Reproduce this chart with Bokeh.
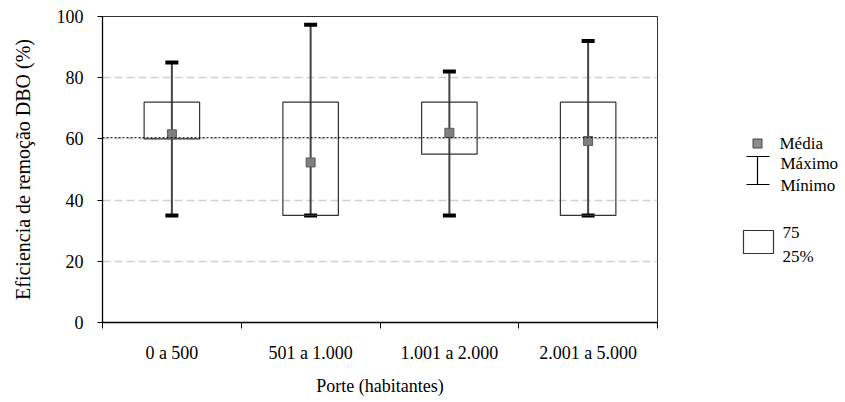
from bokeh.plotting import figure
from bokeh.models import ColumnDataSource, FixedTicker, Range1d, Span, Whisker, TeeHead
from bokeh.layouts import row
from bokeh.core.properties import value
from bokeh.embed import file_html
from bokeh.resources import INLINE

# ---- data ----
categories = ["0 a 500", "501 a 1.000", "1.001 a 2.000", "2.001 a 5.000"]
media = [61.5, 52.3, 62.0, 59.3]
q25 = [60.0, 35.0, 55.0, 35.0]
q75 = [72.0, 72.0, 72.0, 72.0]
minimo = [35.0, 35.0, 35.0, 35.0]
maximo = [85.0, 97.3, 82.0, 92.0]
media_geral = 60.4
y_ticks = [0, 20, 40, 60, 80, 100]

FONT = "Liberation Serif"
xs = [i + 0.5 for i in range(len(categories))]
src = ColumnDataSource(dict(x=xs, cat=categories, media=media, q25=q25, q75=q75,
                            mn=minimo, mx=maximo))

LEFT, TOP, FRAME_W, FRAME_H, BOTTOM, RIGHT = 102, 16, 555, 306, 72, 10
p = figure(frame_width=FRAME_W, frame_height=FRAME_H,
           x_range=Range1d(0, len(categories)), y_range=Range1d(0, 100),
           output_backend="svg", toolbar_location=None,
           min_border_left=LEFT, min_border_top=TOP, min_border_bottom=BOTTOM,
           min_border_right=RIGHT,
           background_fill_color="white", border_fill_color="white")
p.outline_line_color = "#333333"
p.outline_line_width = 1

# grid
p.xgrid.visible = False
p.ygrid.ticker = FixedTicker(ticks=y_ticks)
p.ygrid.grid_line_color = "#cfcfcf"
p.ygrid.grid_line_dash = "8 4"
p.ygrid.grid_line_width = 1.5

# x axis
p.xaxis.ticker = FixedTicker(ticks=xs, minor_ticks=list(range(len(categories) + 1)))
p.xaxis.major_label_overrides = {x: c for x, c in zip(xs, categories)}
p.xaxis.major_tick_line_color = None
p.xaxis.minor_tick_line_color = "black"
p.xaxis.minor_tick_in = 0
p.xaxis.minor_tick_out = 6
p.xaxis.major_label_standoff = 14
p.xaxis.axis_label = "Porte (habitantes)"
p.xaxis.axis_label_standoff = 10

# y axis
p.yaxis.ticker = FixedTicker(ticks=y_ticks)
p.yaxis.minor_tick_line_color = None
p.yaxis.major_tick_in = 0
p.yaxis.major_tick_out = 5
p.yaxis.major_label_standoff = 14
p.yaxis.axis_label = "Eficiencia de remoção DBO (%)"
p.yaxis.axis_label_standoff = 20

for ax in (p.xaxis[0], p.yaxis[0]):
    ax.axis_line_color = "black"
    ax.axis_line_width = 1.3
    ax.major_label_text_font = FONT
    ax.major_label_text_font_size = "18px"
    ax.major_label_text_color = "black"
    ax.axis_label_text_font = FONT
    ax.axis_label_text_font_style = "normal"
    ax.axis_label_text_color = "black"
p.xaxis.axis_label_text_font_size = "18px"
p.yaxis.axis_label_text_font_size = "20px"
p.yaxis.major_tick_line_color = "black"

# boxes (25-75%)
p.vbar(x="x", width=0.4, bottom="q25", top="q75", source=src,
       fill_color=None, line_color="#333333", line_width=1.2)

# overall mean reference line
p.add_layout(Span(location=media_geral, dimension="width", line_color="black",
                  line_dash="2 2", line_width=1))

# min / max whiskers
w = Whisker(base="x", upper="mx", lower="mn", source=src,
            line_color="#444444", line_width=2,
            upper_head=TeeHead(size=13, line_color="black", line_width=4),
            lower_head=TeeHead(size=13, line_color="black", line_width=4))
p.add_layout(w)

# means
p.scatter(x="x", y="media", source=src, marker="square", size=9,
          fill_color="#7f7f7f", line_color="#5a5a5a", line_width=1)

# ---- legend panel (coordinates in page pixels) ----
X0 = LEFT + FRAME_W + RIGHT
LW = 177
lp = figure(frame_width=LW, frame_height=FRAME_H,
            x_range=Range1d(X0, X0 + LW), y_range=Range1d(TOP + FRAME_H, TOP),
            x_axis_location=None, y_axis_location=None,
            min_border_left=0, min_border_right=0,
            min_border_top=TOP, min_border_bottom=BOTTOM,
            toolbar_location=None, output_backend="svg", outline_line_color=None)
lp.grid.visible = False

lp.scatter(x=[757], y=[143], marker="square", size=9, fill_color="#8c8c8c",
           line_color="#444444", line_width=1)
lp.segment(x0=[746, 746, 757], y0=[156, 184, 156], x1=[769, 769, 757], y1=[156, 184, 184],
           line_color="black", line_width=1.2)
lp.quad(left=[743], right=[773], top=[230], bottom=[253], fill_color=None,
        line_color="#333333", line_width=1.2)
lp.text(x=[779, 780, 780, 782, 782], y=[143, 163, 185, 232, 256],
        text=["Média", "Máximo", "Mínimo", "75", "25%"],
        text_font=value(FONT), text_font_size="17px", text_color="black",
        text_baseline="middle", text_align="left")

layout = row(p, lp)
open("out.html", "w").write(file_html(layout, INLINE))
